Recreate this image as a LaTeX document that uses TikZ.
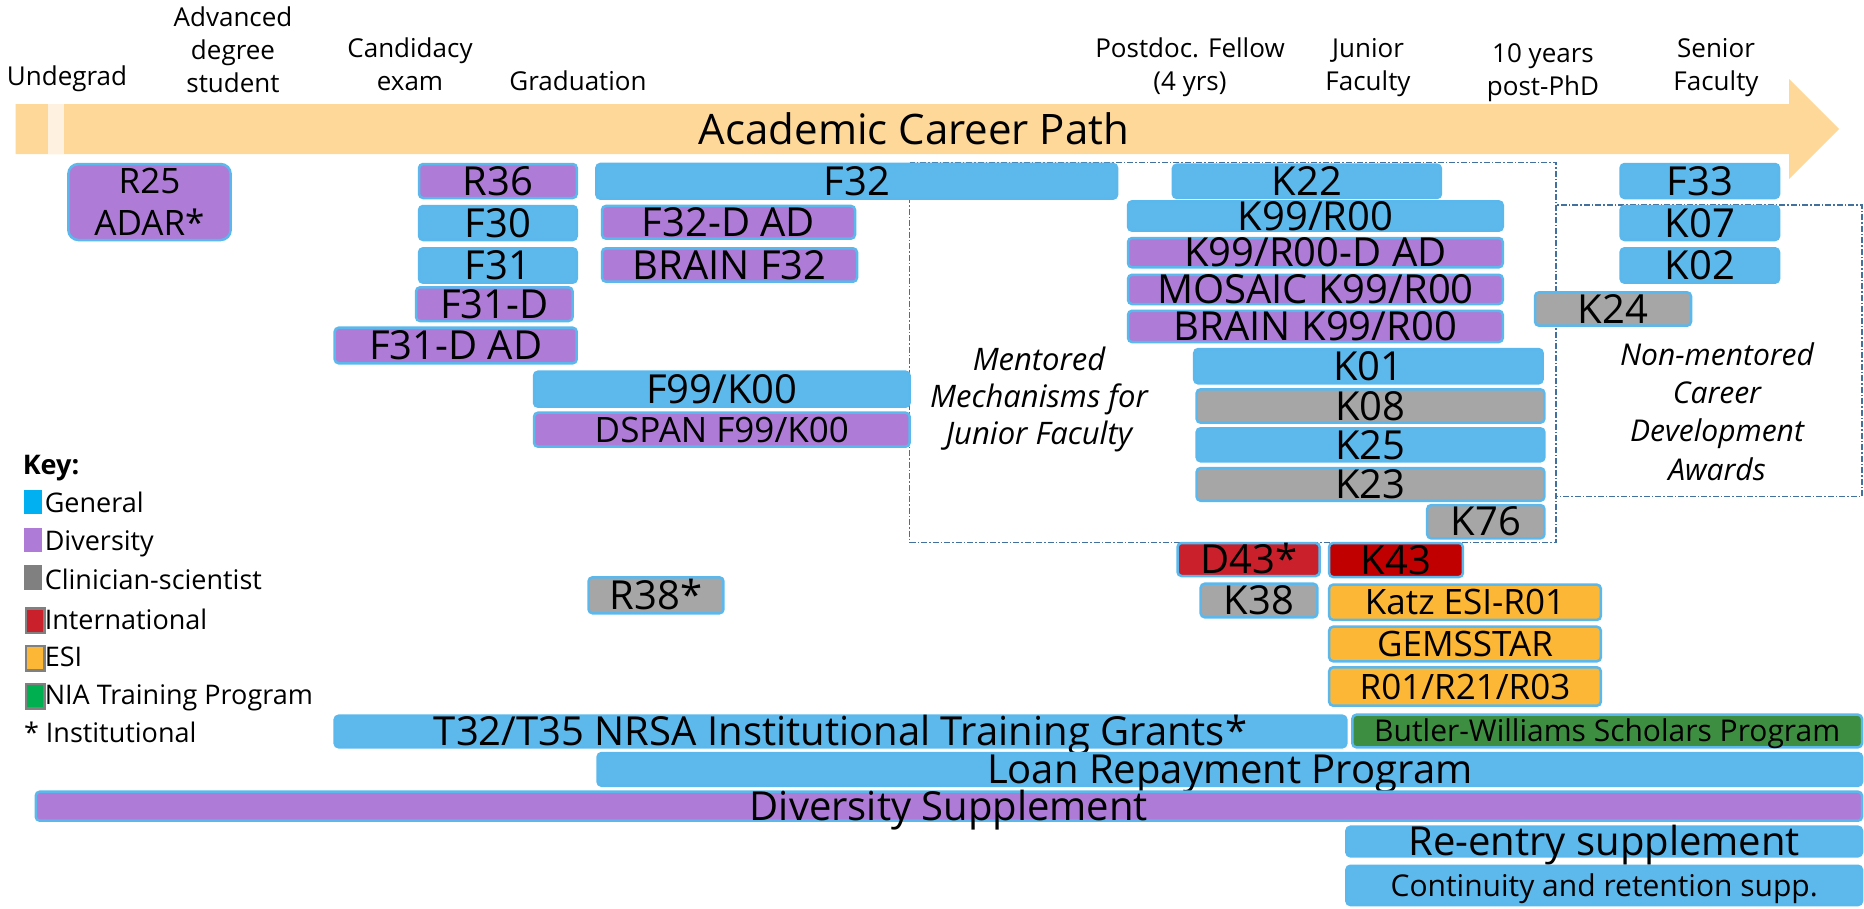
\documentclass[tikz,border=0pt]{standalone}
\usepackage{fontspec}
\setmainfont{Open Sans}

\definecolor{arrowc}{HTML}{FDD899}
\definecolor{stripc}{HTML}{FEF1DF}
\definecolor{edge}{HTML}{5BB8EC}
\definecolor{genc}{HTML}{5DB9EC}
\definecolor{divc}{HTML}{AE7CD6}
\definecolor{clinc}{HTML}{A6A6A6}
\definecolor{intlc}{HTML}{C9202C}
\definecolor{intldark}{HTML}{C00000}
\definecolor{esic}{HTML}{FBB735}
\definecolor{niac}{HTML}{3E8E41}
\definecolor{dashc}{HTML}{41719C}
\definecolor{keyblue}{HTML}{00B0F0}
\definecolor{keygray}{HTML}{808080}
\definecolor{keygreen}{HTML}{00B050}

\begin{document}
\begin{tikzpicture}[x=1pt,y=-1pt,
    award/.style={draw=edge, line width=2.5pt, rounded corners=4pt, inner sep=0pt, text=black},
    general/.style={award, fill=genc},
    divers/.style={award, fill=divc},
    clin/.style={award, fill=clinc},
    esi/.style={award, fill=esic},
    f40/.style={font=\fontsize{40}{48}\selectfont, text height=28.5pt, text depth=0pt},
    f35/.style={font=\fontsize{35}{42}\selectfont, text height=25pt, text depth=0pt},
    f30/.style={font=\fontsize{30}{36}\selectfont, text height=21.4pt, text depth=0pt},
    stage/.style={font=\fontsize{26}{33}\selectfont, align=center, anchor=base, inner sep=0pt},
    note/.style={align=center, anchor=base, inner sep=0pt},
    keytext/.style={font=\fontsize{27}{32}\selectfont, anchor=base west, inner sep=0pt},
    swatch/.style={minimum width=18.7pt, minimum height=24.5pt, inner sep=0pt, anchor=north west},
    group/.style={draw=dashc, line width=1.3pt, dash pattern=on 6pt off 2pt on 1.5pt off 2pt}
  ]

  \useasboundingbox (0,0) rectangle (1864,908);

  % Career path arrow
  \fill[arrowc] (15.7,104) -- (1789,104) -- (1789,79) -- (1839,129) -- (1789,179) -- (1789,154) -- (15.7,154) -- cycle;
  \fill[stripc] (48.3,104) rectangle (63.7,154);
  \node[font=\fontsize{42}{50}\selectfont, text height=30pt, text depth=0pt, inner sep=0pt] (path) at (914,129.5) {Academic Career Path};

  % Career stages (base = last line)
  \node[stage] (undergrad) at (67,85) {Undegrad};
  \node[stage] (student) at (233,92.7) {Advanced\\degree\\student};
  \node[stage] (exam) at (410,90) {Candidacy\\exam};
  \node[stage] (grad) at (578,90.7) {Graduation};
  \node[stage] (postdoc) at (1190,90) {Postdoc. Fellow\\(4 yrs)};
  \node[stage] (junior) at (1368,90.7) {Junior\\Faculty};
  \node[stage] (tenyears) at (1543,95) {10 years\\post-PhD};
  \node[stage] (senior) at (1716,90.7) {Senior\\Faculty};

  % Mentored / non-mentored groups
  \draw[group] (909.6,162.7) rectangle (1556,542.3);
  \draw[group] (1556,205) rectangle (1862,496.7);
  \node[note, font=\fontsize{31}{37}\selectfont\itshape] (mentored) at (1039,444) {Mentored\\Mechanisms for\\Junior Faculty};
  \node[note, font=\fontsize{30}{38.3}\selectfont\itshape] (nonmentored) at (1717,480) {Non-mentored\\Career\\Development\\Awards};

  % Predoctoral awards
  \node[divers, rounded corners=10pt, minimum width=162.3pt, minimum height=76pt, align=center, font=\fontsize{35}{42}\selectfont] (r25) at (149.5,202) {R25\\ADAR*};
  \node[divers, f40, minimum width=157.7pt, minimum height=34pt] (r36) at (497.9,181) {R36};
  \node[general, f40, minimum width=157.7pt, minimum height=34pt] (f30) at (497.9,223) {F30};
  \node[general, f40, minimum width=157.7pt, minimum height=34.4pt] (f31) at (497.9,265.5) {F31};
  \node[divers, f40, minimum width=156.5pt, minimum height=33.7pt] (f31d) at (494.3,304.2) {F31-D};
  \node[divers, f40, minimum width=242pt, minimum height=35.6pt] (f31dad) at (455.7,345.5) {F31-D AD};

  % Postdoctoral awards
  \node[general, f40, minimum width=520.7pt, minimum height=34.7pt] (f32) at (856.7,181.3) {F32};
  \node[divers, f40, minimum width=253pt, minimum height=32.7pt] (f32dad) at (728.5,222.3) {F32-D AD};
  \node[divers, f40, minimum width=255pt, minimum height=33.4pt] (brainf32) at (729.5,265) {BRAIN F32};
  \node[general, f40, minimum width=375.6pt, minimum height=35pt] (f99) at (721.8,389.2) {F99/K00};
  \node[divers, f35, minimum width=375.6pt, minimum height=34pt] (dspan) at (721.8,429.7) {DSPAN F99/K00};
  \node[clin, f40, minimum width=134.9pt, minimum height=36pt] (r38) at (656,595.3) {R38*};

  % Mentored K awards
  \node[general, f40, minimum width=268.1pt, minimum height=33.3pt] (k22) at (1306.9,181.3) {K22};
  \node[general, f40, minimum width=374.7pt, minimum height=29.4pt] (k99) at (1315.4,216) {K99/R00};
  \node[divers, f40, minimum width=374.7pt, minimum height=29.3pt] (k99dad) at (1315.4,252.7) {K99/R00-D AD};
  \node[divers, f40, minimum width=374.7pt, minimum height=29.3pt] (mosaic) at (1315.4,289.4) {MOSAIC K99/R00};
  \node[divers, f40, minimum width=374.7pt, minimum height=31.3pt] (braink99) at (1315.4,326.4) {BRAIN K99/R00};
  \node[general, f40, minimum width=348.4pt, minimum height=34.3pt] (k01) at (1368.4,366.2) {K01};
  \node[clin, f40, minimum width=347.8pt, minimum height=33.4pt] (k08) at (1370.5,406) {K08};
  \node[general, f40, minimum width=347.8pt, minimum height=33pt] (k25) at (1370.5,444.8) {K25};
  \node[clin, f40, minimum width=347.8pt, minimum height=32.7pt] (k23) at (1370.5,484.4) {K23};
  \node[clin, f40, minimum width=117.2pt, minimum height=33.3pt] (k76) at (1485.8,521.7) {K76};

  % Non-mentored awards
  \node[general, f40, minimum width=158.5pt, minimum height=34pt] (f33) at (1699.8,181) {F33};
  \node[general, f40, minimum width=158.5pt, minimum height=34pt] (k07) at (1699.8,223) {K07};
  \node[general, f40, minimum width=158.5pt, minimum height=34.4pt] (k02) at (1699.8,265.5) {K02};
  \node[clin, f40, minimum width=156pt, minimum height=33.4pt] (k24) at (1613,309) {K24};

  % International, ESI and clinician awards
  \node[award, fill=intlc, f40, minimum width=142.1pt, minimum height=33pt] (d43) at (1248.6,559.5) {D43*};
  \node[award, fill=intldark, f40, minimum width=133.8pt, minimum height=34pt] (k43) at (1396,560) {K43};
  \node[clin, f40, minimum width=116.6pt, minimum height=33.6pt] (k38) at (1259,600.5) {K38};
  \node[esi, f35, minimum width=271.7pt, minimum height=35.3pt] (katz) at (1465,602.3) {Katz ESI-R01};
  \node[esi, f35, minimum width=271.7pt, minimum height=34.6pt] (gemsstar) at (1465,644) {GEMSSTAR};
  \node[esi, f35, minimum width=271.7pt, minimum height=38.4pt] (r01) at (1465,686.5) {R01/R21/R03};

  % Programs across the career path
  \node[general, f40, minimum width=1011.7pt, minimum height=31.6pt] (t32) at (840.5,731.5) {T32/T35 NRSA Institutional Training Grants*};
  \node[award, fill=niac, f30, minimum width=509.7pt, minimum height=32.6pt] (butler) at (1607.2,731) {Butler-Williams Scholars Program};
  \node[general, f40, minimum width=1264.5pt, minimum height=32.7pt] (loan) at (1229.8,769.4) {Loan Repayment Program};
  \node[divers, f40, minimum width=1826.3pt, minimum height=29pt] (divsupp) at (948.9,806.2) {Diversity Supplement};
  \node[general, f40, minimum width=515.6pt, minimum height=29.6pt] (reentry) at (1604.2,841.5) {Re-entry supplement};
  \node[general, f30, minimum width=515.6pt, minimum height=39.3pt] (continuity) at (1604.2,885.4) {Continuity and retention supp.};

  % Key
  \node[keytext, font=\fontsize{27}{32}\selectfont\bfseries] (key) at (22.6,474) {Key:};
  \node[swatch, fill=keyblue] (kgen) at (23.3,489.5) {};
  \node[swatch, fill=divc] (kdiv) at (23.3,527.3) {};
  \node[swatch, fill=keygray] (kclin) at (23.3,565) {};
  \node[swatch, fill=intlc, draw=keygray, line width=2.5pt] (kintl) at (24.5,607.2) {};
  \node[swatch, fill=esic, draw=keygray, line width=2.5pt] (kesi) at (24.5,644.5) {};
  \node[swatch, fill=keygreen, draw=keygray, line width=2.5pt] (knia) at (24.5,682.5) {};
  \node[keytext] (lgen) at (44.6,512.3) {General};
  \node[keytext] (ldiv) at (44.6,550.7) {Diversity};
  \node[keytext] (lclin) at (44.6,589) {Clinician-scientist};
  \node[keytext] (lintl) at (44.6,629) {International};
  \node[keytext] (lesi) at (44.6,666.3) {ESI};
  \node[keytext] (lnia) at (44.6,704) {NIA Training Program};
  \node[keytext] (linst) at (23.8,742.3) {* Institutional};

\end{tikzpicture}
\end{document}
